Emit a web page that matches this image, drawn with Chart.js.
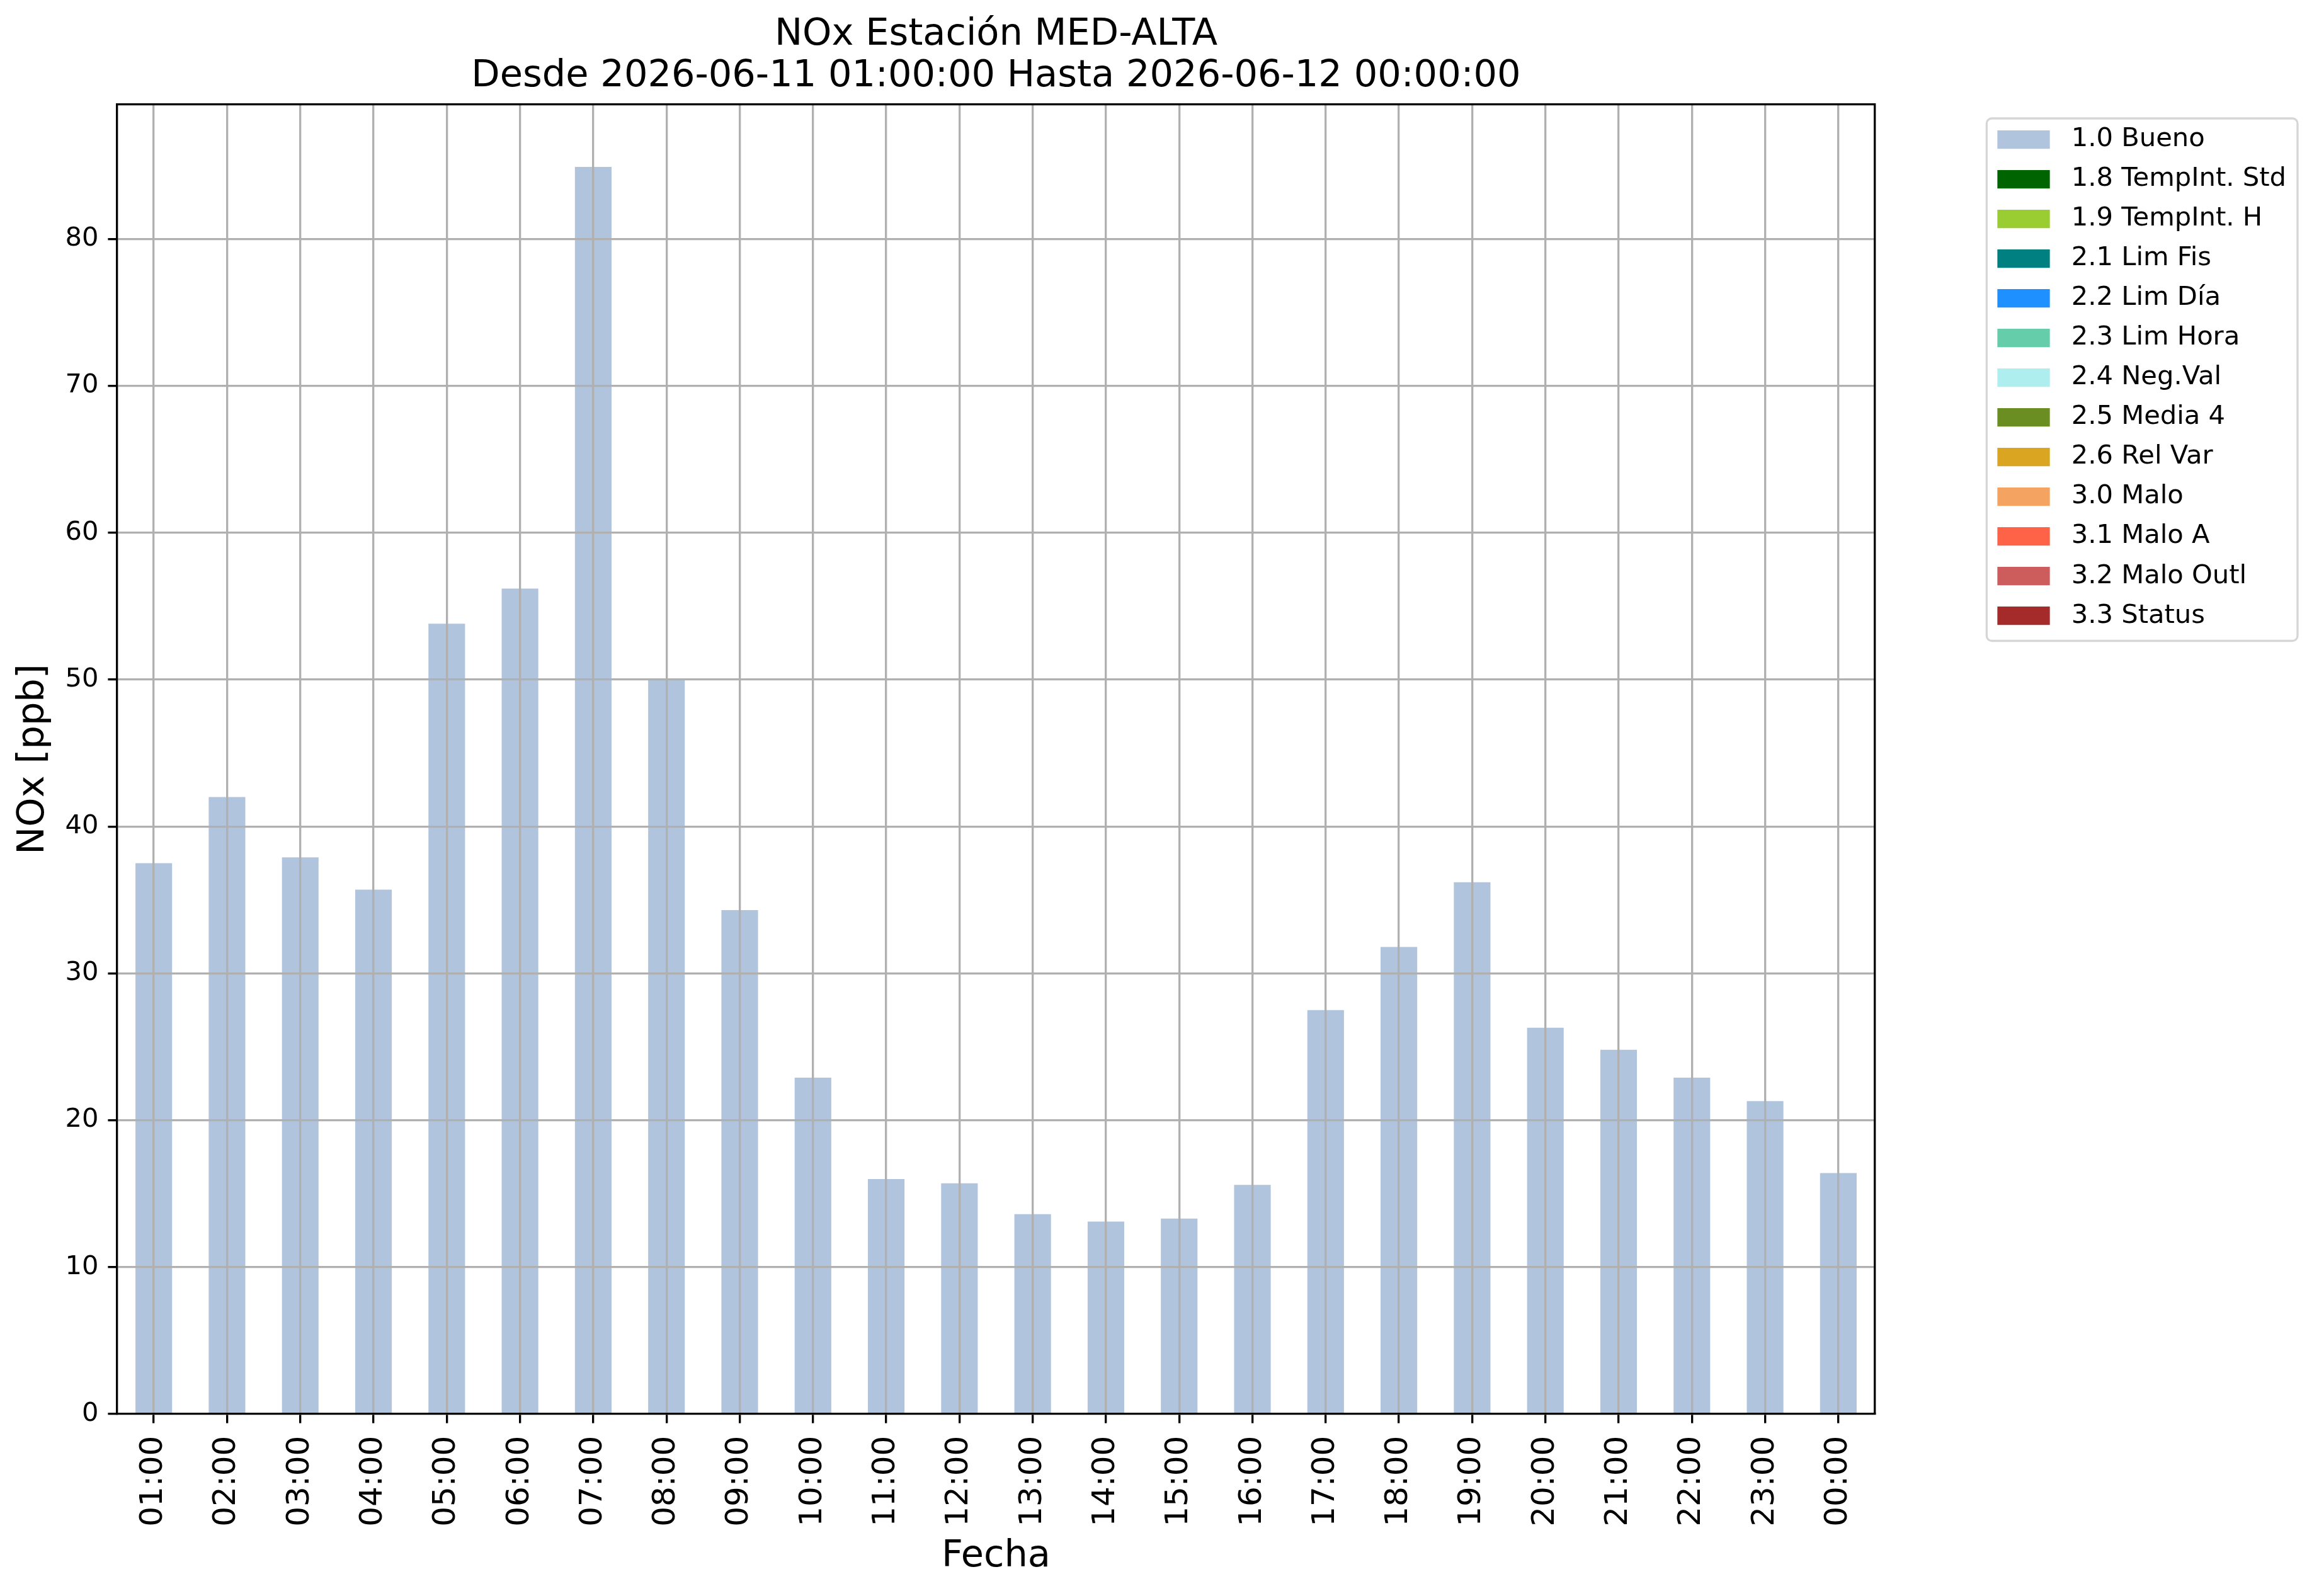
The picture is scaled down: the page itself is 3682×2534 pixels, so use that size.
<!DOCTYPE html>
<html>
<head>
<meta charset="utf-8">
<script src="https://cdn.jsdelivr.net/npm/chart.js@4.4.1/dist/chart.umd.min.js"></script>
<style>
  html, body { margin: 0; padding: 0; background: #ffffff; }
  canvas { display: block; }
</style>
</head>
<body>
<canvas id="c" width="3682" height="2534"></canvas>
<script>
// ---------------- DATA ----------------
const hours = ['01:00','02:00','03:00','04:00','05:00','06:00','07:00','08:00','09:00','10:00','11:00','12:00',
               '13:00','14:00','15:00','16:00','17:00','18:00','19:00','20:00','21:00','22:00','23:00','00:00'];
const buenoValues = [37.5, 42.0, 37.9, 35.7, 53.8, 56.2, 84.9, 50.0, 34.3, 22.9, 16.0, 15.7,
                     13.6, 13.1, 13.3, 15.6, 27.5, 31.8, 36.2, 26.3, 24.8, 22.9, 21.3, 16.4];
const seriesLabels = ['1.0 Bueno','1.8 TempInt. Std','1.9 TempInt. H','2.1 Lim Fis','2.2 Lim Día','2.3 Lim Hora',
                      '2.4 Neg.Val','2.5 Media 4','2.6 Rel Var','3.0 Malo','3.1 Malo A','3.2 Malo Outl','3.3 Status'];
const seriesColors = ['#B0C4DE','#006400','#9ACD32','#008080','#1E90FF','#66CDAA',
                      '#AFEEEE','#6B8E23','#DAA520','#F4A460','#FF6347','#CD5C5C','#A52A2A'];
// flagged-hour series: no hours flagged in this period
const flaggedValues = [[],[],[],[],[],[],[],[],[],[],[],[]];
const yTickStep = 10;
const yMax = 89.15;
const titleLines = ['NOx Estación MED-ALTA', 'Desde 2026-06-11 01:00:00 Hasta 2026-06-12 00:00:00'];

// ---------------- LAYOUT CONSTANTS ----------------
const PLOT_RIGHT = 2977;
const LW = 3.33;

Chart.defaults.font.family = "'DejaVu Sans', 'Liberation Sans', sans-serif";
Chart.defaults.color = '#000000';

const datasets = seriesLabels.map((lab, i) => ({
  label: lab,
  data: i === 0 ? buenoValues : flaggedValues[i - 1],
  backgroundColor: seriesColors[i],
  borderWidth: 0,
  categoryPercentage: 1.0,
  barPercentage: 0.5,
  xAxisID: 'x',
  yAxisID: 'y'
}));

const legendFrame = {
  id: 'legendFrame',
  afterDraw(chart) {
    const lg = chart.legend;
    if (!lg || !lg.legendHitBoxes || !lg.legendHitBoxes.length) return;
    const hb = lg.legendHitBoxes;
    const first = hb[0], last = hb[hb.length - 1];
    const maxR = Math.max(...hb.map(h => h.left + h.width));
    const x0 = first.left - 17, y0 = first.top - 12.75;
    const x1 = maxR + 18, y1 = last.top + last.height + 19;
    const ctx = chart.ctx;
    ctx.save();
    ctx.strokeStyle = '#d6d6d6';
    ctx.lineWidth = LW;
    ctx.beginPath();
    if (ctx.roundRect) ctx.roundRect(x0, y0, x1 - x0, y1 - y0, 8);
    else ctx.rect(x0, y0, x1 - x0, y1 - y0);
    ctx.stroke();
    ctx.restore();
  }
};

const borderOpts = { display: true, color: '#000000', width: LW, z: 2 };

const chart = new Chart(document.getElementById('c'), {
  type: 'bar',
  data: { labels: hours, datasets: datasets },
  options: {
    responsive: false,
    animation: false,
    devicePixelRatio: 1,
    layout: { padding: { left: 0, top: 0, bottom: 0, right: 36 } },
    plugins: {
      title: {
        display: true,
        text: titleLines,
        fullSize: false,
        color: '#000000',
        font: { size: 59, weight: 'normal', lineHeight: '65.7px' },
        padding: { top: 23, bottom: 11.6 }
      },
      legend: {
        display: true,
        position: 'right',
        align: 'start',
        fullSize: false,
        title: { display: true, text: ' ', font: { size: 1 }, padding: { top: 12.2, bottom: 0 } },
        labels: {
          boxWidth: 83.3,
          boxHeight: 29.2,
          padding: 21.34,
          color: '#000000',
          font: { size: 41.67 },
          generateLabels(ch) {
            return Chart.defaults.plugins.legend.labels.generateLabels(ch)
              .map(l => Object.assign(l, { text: ' ' + l.text }));
          }
        }
      },
      tooltip: { enabled: false }
    },
    scales: {
      x: {
        type: 'category',
        position: 'bottom',
        stacked: true,
        offset: true,
        grid: { display: true, offset: false, color: '#b0b0b0', lineWidth: LW,
                drawTicks: true, tickColor: '#000000', tickWidth: LW, tickLength: 14.6, z: 1 },
        border: borderOpts,
        ticks: { autoSkip: false, minRotation: 90, maxRotation: 90, padding: 20,
                 color: '#000000', font: { size: 50 } },
        title: { display: true, text: 'Fecha', color: '#000000', font: { size: 59, weight: 'normal' },
                 padding: { top: 0, bottom: 27 } },
        afterFit(s) { s.height = 289; }
      },
      y: {
        type: 'linear',
        position: 'left',
        stacked: true,
        min: 0,
        max: yMax,
        grid: { display: true,
                color: c => (c.tick && c.tick.value === 0) ? 'rgba(0,0,0,0)' : '#b0b0b0',
                lineWidth: LW, drawTicks: true, tickColor: '#000000', tickWidth: LW, tickLength: 14.6, z: 1 },
        border: borderOpts,
        ticks: { stepSize: yTickStep, includeBounds: false, padding: 15, color: '#000000', font: { size: 41.67 } },
        title: { display: true, text: 'NOx [ppb]', color: '#000000', font: { size: 59, weight: 'normal' },
                 padding: { top: 18, bottom: 0 } },
        afterFit(s) { s.width = 186; }
      },
      x2: {
        type: 'linear',
        axis: 'x',
        position: 'top',
        display: true,
        grid: { display: false },
        ticks: { display: false },
        border: borderOpts,
        afterFit(s) { s.height = 0; }
      },
      y2: {
        type: 'linear',
        axis: 'y',
        position: 'right',
        display: true,
        grid: { display: false },
        ticks: { display: false },
        border: borderOpts,
        afterFit(s) { s.width = 173; }
      }
    }
  },
  plugins: [legendFrame]
});

// align the plot's right edge with the reference layout
const dx = chart.chartArea.right - PLOT_RIGHT;
if (Math.abs(dx) > 0.5) {
  chart.options.layout.padding.right += dx;
  chart.update('none');
}
</script>
</body>
</html>
